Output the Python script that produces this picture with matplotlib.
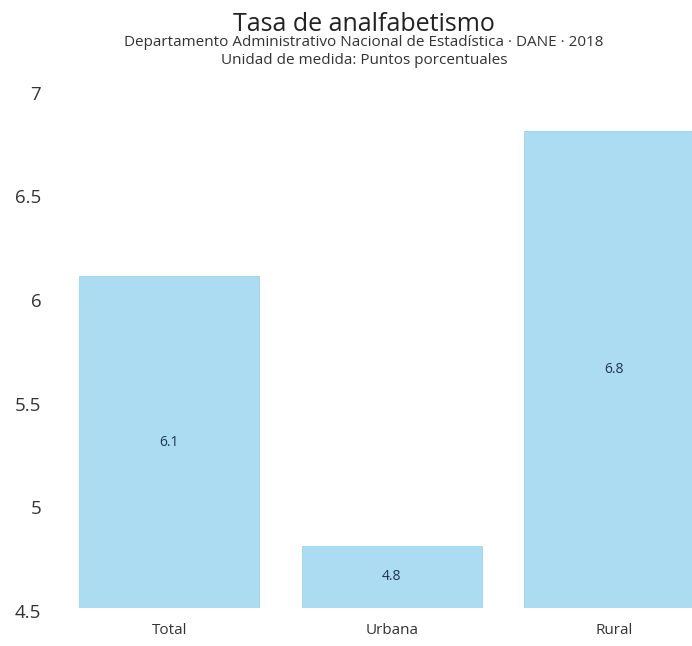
import matplotlib
matplotlib.use("Agg")
import matplotlib.pyplot as plt
from matplotlib.transforms import ScaledTranslation

categories = ["Total", "Urbana", "Rural"]
values = [6.1, 4.8, 6.8]
yticks = [4.5, 5, 5.5, 6, 6.5, 7]
ytick_labels = ["4.5", "5", "5.5", "6", "6.5", "7"]

title = "Tasa de analfabetismo"
subtitle1 = "Departamento Administrativo Nacional de Estadística \u00b7 DANE \u00b7 2018"
subtitle2 = "Unidad de medida: Puntos porcentuales"

plt.rcParams["font.family"] = ["Open Sans", "DejaVu Sans"]

W, H = 692, 646
fig = plt.figure(figsize=(W / 100, H / 100), dpi=100)
fig.patch.set_facecolor("white")

# plot area in pixel coordinates
left, right, top, bottom = 58, 692, 89.5, 608
ax = fig.add_axes([left / W, (H - bottom) / H, (right - left) / W, (bottom - top) / H])

base = 4.5
x = list(range(len(categories)))
ax.bar(x, [v - base for v in values], bottom=base, width=0.81,
       color="#abdcf2", edgecolor="#9fd3ec", linewidth=0.6)

for i, v in enumerate(values):
    ax.text(i, (base + v) / 2, f"{v}", ha="center", va="center",
            fontsize=10, color="#1f3550")

ax.set_ylim(base, 7)
ax.set_xlim(-0.5, 2.35)
ax.set_yticks(yticks)
ax.set_yticklabels(ytick_labels, fontsize=13.5, color="#333333")
ax.set_xticks(x)
ax.set_xticklabels(categories, fontsize=11, color="#333333")
ax.tick_params(axis="y", length=0, pad=12)
ax.tick_params(axis="x", length=0, pad=11)
for s in ax.spines.values():
    s.set_visible(False)

# nudge the value-axis labels slightly below their gridline positions
shift = ScaledTranslation(0, -3 / 100, fig.dpi_scale_trans)
for lbl in ax.get_yticklabels():
    lbl.set_transform(lbl.get_transform() + shift)

cx = 364 / W
fig.text(cx, 1 - 31 / H, title, ha="center", va="baseline", fontsize=18, color="#222222")
fig.text(cx, 1 - 46 / H, subtitle1, ha="center", va="baseline", fontsize=11, color="#333333")
fig.text(cx, 1 - 64 / H, subtitle2, ha="center", va="baseline", fontsize=11, color="#333333")

fig.savefig("out.png", dpi=100, facecolor="white")
